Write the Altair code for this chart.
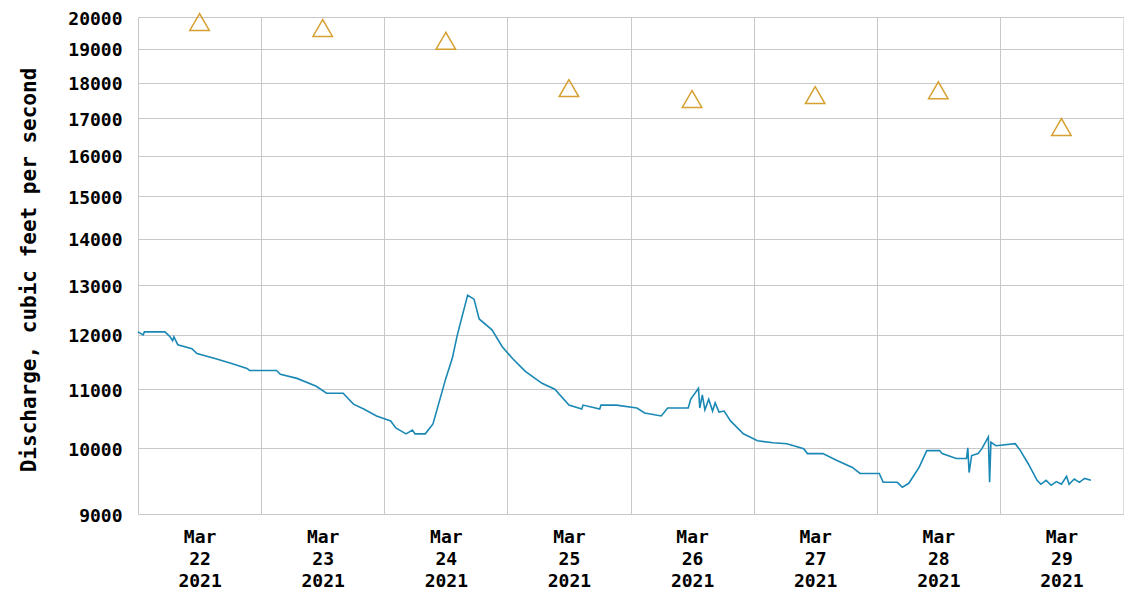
import altair as alt
import pandas as pd

# Instantaneous discharge readings (cubic feet per second)
flow_times = [
    "2021-03-22T00:00", "2021-03-22T01:00", "2021-03-22T01:15", "2021-03-22T05:15", "2021-03-22T06:15",
    "2021-03-22T06:45", "2021-03-22T07:00", "2021-03-22T07:45", "2021-03-22T10:30", "2021-03-22T11:30",
    "2021-03-22T15:00", "2021-03-22T18:15", "2021-03-22T21:15", "2021-03-22T21:45", "2021-03-23T03:00",
    "2021-03-23T03:45", "2021-03-23T07:00", "2021-03-23T10:45", "2021-03-23T12:45", "2021-03-23T16:00",
    "2021-03-23T17:00", "2021-03-23T18:00", "2021-03-23T20:00", "2021-03-23T22:30", "2021-03-24T01:15",
    "2021-03-24T02:15", "2021-03-24T04:15", "2021-03-24T05:30", "2021-03-24T06:00", "2021-03-24T08:00",
    "2021-03-24T09:30", "2021-03-24T10:45", "2021-03-24T12:00", "2021-03-24T13:15", "2021-03-24T14:15",
    "2021-03-24T15:45", "2021-03-24T16:15", "2021-03-24T17:30", "2021-03-24T18:30", "2021-03-24T21:00",
    "2021-03-24T23:00", "2021-03-25T01:00", "2021-03-25T03:30", "2021-03-25T06:45", "2021-03-25T09:15",
    "2021-03-25T12:00", "2021-03-25T14:30", "2021-03-25T14:45", "2021-03-25T18:00", "2021-03-25T18:15",
    "2021-03-25T21:15", "2021-03-26T01:15", "2021-03-26T02:45", "2021-03-26T06:00", "2021-03-26T07:15",
    "2021-03-26T11:15", "2021-03-26T11:45", "2021-03-26T13:15", "2021-03-26T13:30", "2021-03-26T14:00",
    "2021-03-26T14:30", "2021-03-26T15:15", "2021-03-26T16:00", "2021-03-26T16:30", "2021-03-26T17:15",
    "2021-03-26T18:15", "2021-03-26T19:30", "2021-03-26T22:00", "2021-03-27T00:45", "2021-03-27T03:45",
    "2021-03-27T06:30", "2021-03-27T09:45", "2021-03-27T10:30", "2021-03-27T13:30", "2021-03-27T16:15",
    "2021-03-27T19:15", "2021-03-27T20:45", "2021-03-28T00:30", "2021-03-28T01:15", "2021-03-28T04:00",
    "2021-03-28T05:00", "2021-03-28T06:15", "2021-03-28T08:15", "2021-03-28T09:45", "2021-03-28T12:15",
    "2021-03-28T12:45", "2021-03-28T15:30", "2021-03-28T17:30", "2021-03-28T17:45", "2021-03-28T18:00",
    "2021-03-28T18:30", "2021-03-28T19:45", "2021-03-28T20:30", "2021-03-28T21:45", "2021-03-28T22:00",
    "2021-03-28T22:15", "2021-03-28T23:15", "2021-03-29T03:00", "2021-03-29T04:00", "2021-03-29T05:30",
    "2021-03-29T07:15", "2021-03-29T08:00", "2021-03-29T09:00", "2021-03-29T10:00", "2021-03-29T11:00",
    "2021-03-29T12:00", "2021-03-29T13:00", "2021-03-29T13:30", "2021-03-29T14:30", "2021-03-29T15:30",
    "2021-03-29T16:30", "2021-03-29T17:45",
]
flow_values = [
    12060, 12000, 12060, 12060, 11965,
    11890, 11965, 11813, 11738, 11645,
    11553, 11462, 11371, 11335, 11335,
    11263, 11191, 11050, 10928, 10928,
    10830, 10738, 10653, 10535, 10452,
    10336, 10237, 10300, 10237, 10237,
    10402, 10789, 11191, 11553, 12002,
    12589, 12791, 12710, 12312, 12098,
    11776, 11553, 11317, 11103, 10997,
    10721, 10653, 10721, 10653, 10721,
    10721, 10670, 10585, 10535, 10670,
    10670, 10824, 11015, 10670, 10900,
    10640, 10824, 10619, 10760, 10600,
    10619, 10452, 10237, 10124, 10092,
    10076, 9996, 9917, 9917, 9807,
    9699, 9606, 9606, 9470, 9470,
    9395, 9455, 9699, 9965, 9965,
    9917, 9839, 9839, 10010, 9620,
    9886, 9917, 9996, 10186, 9470,
    10100, 10044, 10076, 9965, 9761,
    9500, 9440, 9500, 9425, 9480,
    9440, 9560, 9440, 9520, 9470,
    9530, 9500,
]

# Daily median discharge (triangles), plotted at noon
median_days = [
    "2021-03-22T12:00", "2021-03-23T12:00", "2021-03-24T12:00", "2021-03-25T12:00",
    "2021-03-26T12:00", "2021-03-27T12:00", "2021-03-28T12:00", "2021-03-29T12:00",
]
median_values = [19840, 19650, 19250, 17840, 17530, 17640, 17780, 16760]

y_ticks = [9000, 10000, 11000, 12000, 13000, 14000, 15000, 16000, 17000, 18000, 19000, 20000]
day_ticks = [alt.DateTime(year=2021, month=3, date=d) for d in range(22, 30)]

flow_df = pd.DataFrame({"time": flow_times, "flow": flow_values})
med_df = pd.DataFrame({"time": median_days, "flow": median_values})

FONT = "DejaVu Sans Mono"
W, H = 985, 497

x_scale = alt.Scale(domain=[alt.DateTime(year=2021, month=3, date=22),
                            alt.DateTime(year=2021, month=3, date=30)])
y_scale = alt.Scale(type="log", domain=[9000, 20000], nice=False)

x_axis = alt.Axis(
    values=day_ticks, grid=True, ticks=False, domain=False,
    labelExpr="[timeFormat(datum.value, '%b'), timeFormat(datum.value, '%d'), timeFormat(datum.value, '%Y')]",
    labelOffset=W / 16, labelPadding=14, labelLineHeight=22,
    labelFont=FONT, labelFontWeight="bold", labelFontSize=18, labelColor="black",
    labelOverlap=False, labelFlush=False, labelBound=False, labelAlign="center",
    gridColor="#c8c8c8", gridWidth=1, title=None,
)
y_axis = alt.Axis(
    values=y_ticks, format="d", grid=True, ticks=False, domain=False,
    labelFont=FONT, labelFontWeight="bold", labelFontSize=18, labelColor="black",
    labelPadding=16, labelOverlap=False, labelOffset=2,
    gridColor="#c8c8c8", gridWidth=1,
    title="Discharge, cubic feet per second",
    titleFont=FONT, titleFontWeight="bold", titleFontSize=21, titleColor="black",
    titleAngle=270, titleX=-99, titleY=H / 2 + 4, titleBaseline="bottom", titleAlign="center",
)

line = alt.Chart(flow_df).mark_line(color="#1a88b5", strokeWidth=1.6).encode(
    x=alt.X("time:T", scale=x_scale, axis=x_axis),
    y=alt.Y("flow:Q", scale=y_scale, axis=y_axis),
)

tri = alt.Chart(med_df).mark_point(
    shape="triangle-up", filled=False, color="#d6a030", strokeWidth=1.5, size=380, opacity=1
).encode(
    x=alt.X("time:T", scale=x_scale),
    y=alt.Y("flow:Q", scale=y_scale),
)

chart = alt.layer(line, tri).properties(
    width=W, height=H,
    autosize=alt.AutoSizeParams(type="none"),
    padding={"left": 130, "top": 9, "right": 1, "bottom": 78},
).configure_view(stroke="black", strokeWidth=2).configure(background="white")

chart.save("out.html", embed_options={"renderer": "svg", "actions": False})
